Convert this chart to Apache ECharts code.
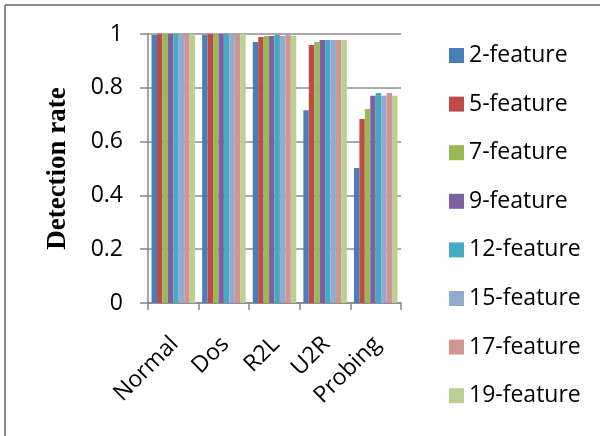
<!DOCTYPE html>
<html><head><meta charset="utf-8">
<script src="https://cdn.jsdelivr.net/npm/echarts@6/dist/echarts.min.js"></script>
<style>html,body{margin:0;padding:0;background:#fff}#c{width:600px;height:436px}</style>
</head><body><div id="c"></div>
<script>
const categories = ['Normal', 'Dos', 'R2L', 'U2R', 'Probing'];
const seriesNames = ['2-feature', '5-feature', '7-feature', '9-feature', '12-feature', '15-feature', '17-feature', '19-feature'];
const f2  = [0.996, 0.996, 0.970, 0.717, 0.502];
const f5  = [0.999, 1.000, 0.989, 0.959, 0.684];
const f7  = [1.000, 1.000, 0.993, 0.970, 0.721];
const f9  = [1.000, 1.000, 0.993, 0.978, 0.770];
const f12 = [1.000, 1.000, 0.997, 0.978, 0.781];
const f15 = [1.000, 1.000, 0.993, 0.978, 0.770];
const f17 = [1.000, 1.000, 0.997, 0.978, 0.781];
const f19 = [1.000, 1.000, 0.993, 0.978, 0.770];
const yTicks = [0, 0.2, 0.4, 0.6, 0.8, 1];
const colors = ['#4A7EBB', '#BE4B48', '#98B954', '#7D60A0', '#46AAC5', '#93A9D0', '#D09493', '#BACF93'];
const allData = [f2, f5, f7, f9, f12, f15, f17, f19];

const chart = echarts.init(document.getElementById('c'));
const font = '"Open Sans", sans-serif';
chart.setOption({
  animation: false,
  color: colors,
  grid: {left: 148, right: 199, top: 34, bottom: 133, containLabel: false},
  legend: {
    orient: 'vertical', left: 444, top: 39, itemGap: 25.6,
    itemWidth: 15, itemHeight: 15, icon: 'rect',
    textStyle: {fontFamily: font, fontSize: 23, lineHeight: 23, color: '#000', padding: [0,0,0,0]},
    data: seriesNames
  },
  xAxis: {
    type: 'category', data: categories,
    axisLine: {lineStyle: {color: '#868686', width: 1.5}},
    axisTick: {show: true, length: 7, lineStyle: {color: '#868686', width: 1.5}},
    axisLabel: {rotate: 45, fontFamily: font, fontSize: 23, color: '#000', margin: 39, padding: [0, -2, 0, 0]}
  },
  yAxis: {
    type: 'value', min: 0, max: 1, interval: 0.2,
    name: 'Detection rate', nameLocation: 'middle', nameGap: 76, nameRotate: 90,
    nameTextStyle: {fontFamily: '"Liberation Serif", "Times New Roman", serif', fontWeight: 'bold', fontSize: 27, color: '#000'},
    axisLine: {show: true, lineStyle: {color: '#868686', width: 1.5}},
    axisTick: {show: true, length: 8, lineStyle: {color: '#868686', width: 1.5}},
    splitLine: {lineStyle: {color: '#8C8C8C', width: 1.5}},
    axisLabel: {fontFamily: font, fontSize: 23, color: '#000', margin: 25,
      formatter: v => yTicks.includes(Math.round(v*10)/10) ? String(Math.round(v*10)/10) : ''}
  },
  series: seriesNames.map((n, i) => ({
    name: n, type: 'bar', data: allData[i], barGap: '0%', barCategoryGap: '14%'
  })),
  graphic: [
    {type: 'line', shape: {x1: 5, y1: 5, x2: 600, y2: 5}, style: {stroke: '#888', lineWidth: 2}},
    {type: 'line', shape: {x1: 5, y1: 5, x2: 5, y2: 436}, style: {stroke: '#888', lineWidth: 2}}
  ]
});
</script></body></html>
